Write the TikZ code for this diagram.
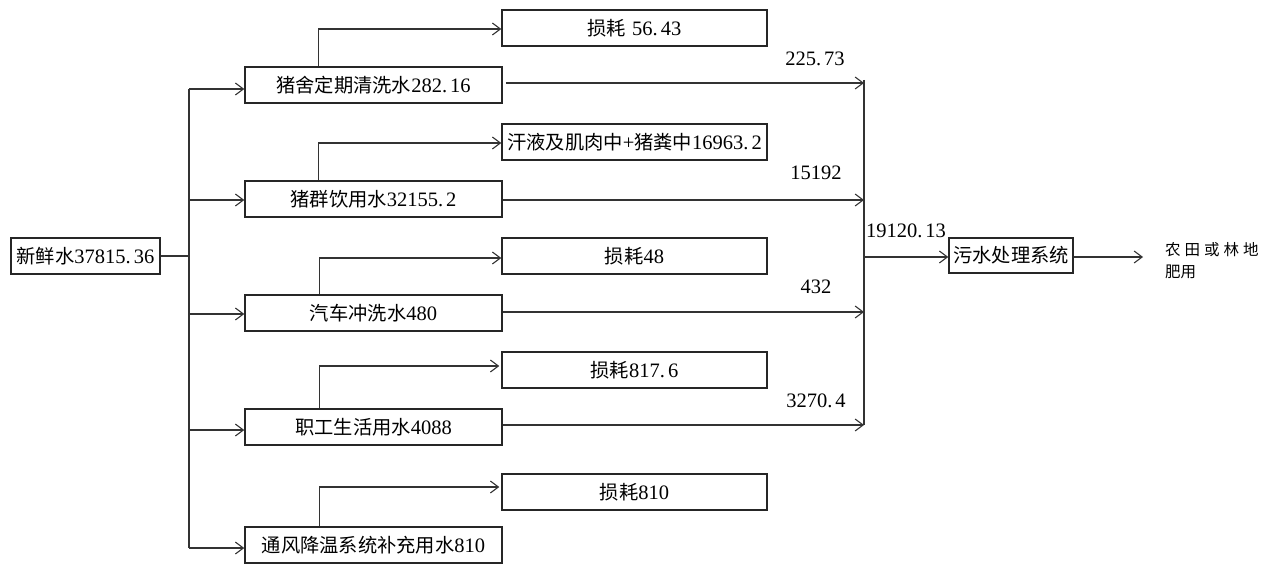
\documentclass[tikz,border=0pt]{standalone}
\usepackage{fontspec}
\setmainfont{Liberation Serif}
\newfontfamily\cjk[Scale=0.94]{Noto Sans CJK SC}
\usetikzlibrary{arrows.meta}
\begin{document}
\begin{tikzpicture}[x=1pt,y=-1pt,
  box/.style={draw=black!85,line width=1.5pt,minimum height=36pt,inner sep=0pt,font=\fontsize{20.5}{22}\selectfont},
  mid/.style={box,minimum width=257pt},
  loss/.style={box,minimum width=265pt},
  ln/.style={draw=black!80,line width=1.1pt},
  arr/.style={ln,-{Straight Barb[length=8pt,width=12pt,line width=1.1pt]}},
  lbl/.style={font=\fontsize{20.5}{22}\selectfont,inner sep=0pt}]
\useasboundingbox (0,0) rectangle (1279,564);
% source
\node[box,minimum width=149pt] (src) at (85.5,256) {{\cjk 新鲜水}37815.\kern3pt36};
% middle boxes
\node[mid] (b1) at (373.5,85) {{\cjk 猪舍定期清洗水}282.\kern3pt16};
\node[mid] (b2) at (373.5,199) {{\cjk 猪群饮用水}32155.\kern3pt2};
\node[mid] (b3) at (373.5,313) {{\cjk 汽车冲洗水}480};
\node[mid] (b4) at (373.5,427) {{\cjk 职工生活用水}4088};
\node[mid] (b5) at (373.5,545) {{\cjk 通风降温系统补充用水}810};
% loss boxes
\node[loss] (l1) at (634.5,28) {{\cjk 损耗}\kern6pt 56.\kern3pt43};
\node[loss] (l2) at (634.5,142) {{\cjk 汗液及肌肉中}+{\cjk 猪粪中}16963.\kern3pt2};
\node[loss] (l3) at (634.5,256) {{\cjk 损耗}48};
\node[loss] (l4) at (634.5,370) {{\cjk 损耗}817.\kern3pt6};
\node[loss] (l5) at (634.5,492) {{\cjk 损耗}810};
% treatment
\node[box,minimum width=124pt,minimum height=35pt] (wt) at (1011,255.5) {{\cjk 污水处理系统}};
% trunk
\coordinate (jt) at (189,256);
\coordinate (t1) at (189,89);
\coordinate (t2) at (189,200);
\coordinate (t3) at (189,314);
\coordinate (t4) at (189,430);
\coordinate (t5) at (189,548);
\draw[ln] (src.east) -- (jt);
\draw[ln] (t1) -- (t5);
\draw[arr] (t1) -- (t1 -| b1.west);
\draw[arr] (t2) -- (t2 -| b2.west);
\draw[arr] (t3) -- (t3 -| b3.west);
\draw[arr] (t4) -- (t4 -| b4.west);
\draw[arr] (t5) -- (t5 -| b5.west);
% branches to losses
\draw[arr] ([xshift=74pt]b1.north west) |- ([yshift=-1pt]l1.west);
\draw[arr] ([xshift=74pt]b2.north west) |- ([yshift=-1pt]l2.west);
\draw[arr] ([xshift=75pt]b3.north west) |- ([yshift=-2pt]l3.west);
\draw[arr] ([xshift=75pt]b4.north west) |- ([xshift=-2pt,yshift=4pt]l4.west);
\draw[arr] ([xshift=75pt]b5.north west) |- ([xshift=-2pt,yshift=5pt]l5.west);
% collector
\coordinate (ct) at (864,80);
\coordinate (cb) at (864,425);
\coordinate (cm) at (864,257);
\draw[ln] (ct) -- (cb);
\draw[arr] ([shift={(3pt,2pt)}]b1.east) -- (ct |- 0,83);
\draw[arr] ([yshift=-1pt]b2.east) -- (ct |- 0,200);
\draw[arr] ([yshift=1pt]b3.east) -- (ct |- 0,312);
\draw[arr] ([yshift=2pt]b4.east) -- (cb);
\draw[arr] (cm) -- (cm -| wt.west);
\coordinate (oe) at (1143,257);
\draw[arr] (wt.east |- oe) -- (oe);
% labels
\node[lbl] (v1) at (815,59) {225.\kern3pt73};
\node[lbl] (v2) at (816,173) {15192};
\node[lbl] (v3) at (816,287) {432};
\node[lbl] (v4) at (816,401) {3270.\kern3pt4};
\node[lbl] (v5) at (906,231) {19120.\kern3pt13};
\node[inner sep=0pt,anchor=west,align=left,font=\fontsize{16.5}{22}\selectfont] (out) at (1165,261)
  {{\cjk 农\kern4pt 田\kern4pt 或\kern4pt 林\kern4pt 地}\\{\cjk 肥用}};
\end{tikzpicture}
\end{document}
